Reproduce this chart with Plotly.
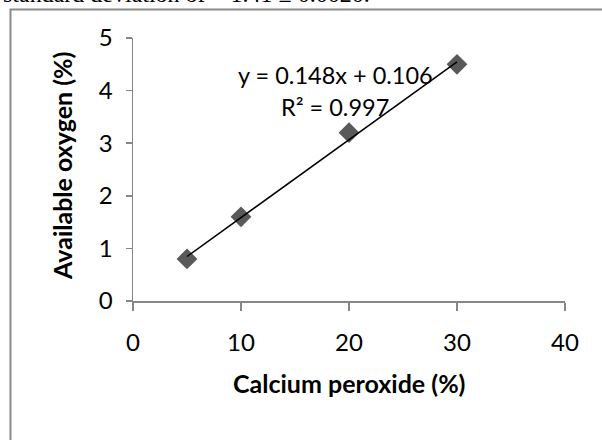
import plotly.graph_objects as go

# ---- data ----
calcium_peroxide = [5, 10, 20, 30]          # x (%)
available_oxygen = [0.8, 1.6, 3.2, 4.5]     # y (%)
trend_slope = 0.148
trend_intercept = 0.106
trend_r2 = 0.997
x_ticks = [0, 10, 20, 30, 40]
y_ticks = [0, 1, 2, 3, 4, 5]

W, H = 602, 440
L, R, T, B = 133, 37, 38, 139
PW, PH = W - L - R, H - T - B

def px(x):
    """page pixel x -> paper fraction"""
    return (x - L) / PW

def py(y):
    """page pixel y -> paper fraction"""
    return 1 - (y - T) / PH

trend_x = [min(calcium_peroxide), max(calcium_peroxide)]
trend_y = [trend_slope * v + trend_intercept for v in trend_x]

fig = go.Figure()
fig.add_trace(go.Scatter(
    x=calcium_peroxide, y=available_oxygen, mode="markers",
    marker=dict(symbol="diamond", size=16, color="#595959", line=dict(width=0)),
    showlegend=False, hoverinfo="x+y"))
fig.add_trace(go.Scatter(
    x=trend_x, y=trend_y, mode="lines",
    line=dict(color="black", width=1.5), showlegend=False, hoverinfo="skip"))

axis_common = dict(
    showgrid=False, zeroline=False, showline=True, linecolor="#868686", linewidth=1.5,
    ticks="outside", tickcolor="#868686", tickwidth=1.5,
    tickfont=dict(family="Lato", size=24, color="black"), fixedrange=True)

fig.update_xaxes(range=[0, 40], tickvals=x_ticks, ticklen=8, ticklabelstandoff=12, **axis_common)
fig.update_yaxes(range=[0, 5], tickvals=y_ticks, ticklen=6, ticklabelstandoff=8, **axis_common)

annotations = [
    dict(text="<b>Calcium peroxide (%)</b>", x=px(349), y=py(383), xref="paper", yref="paper",
         showarrow=False, xanchor="center", yanchor="middle",
         font=dict(family="Lato", size=25, color="black")),
    dict(text="<b>Available oxygen (%)</b>", x=px(62), y=py(166), xref="paper", yref="paper",
         showarrow=False, xanchor="center", yanchor="middle", textangle=-90,
         font=dict(family="Lato", size=25, color="black")),
    dict(text=f"y = {trend_slope}x + {trend_intercept}", x=px(335), y=py(75), xref="paper", yref="paper",
         showarrow=False, xanchor="center", yanchor="middle",
         font=dict(family="Lato", size=23.5, color="black")),
    dict(text=f"R² = {trend_r2}", x=px(335), y=py(107), xref="paper", yref="paper",
         showarrow=False, xanchor="center", yanchor="middle",
         font=dict(family="Lato", size=23.5, color="black")),
    dict(text="standard deviation of ~ 1.41 ± 0.0020.", x=px(1), y=py(-5.5), xref="paper", yref="paper",
         showarrow=False, xanchor="left", yanchor="middle",
         font=dict(family="Liberation Serif", size=24, color="black")),
]

fig.update_layout(
    width=W, height=H, margin=dict(l=L, r=R, t=T, b=B, pad=0),
    paper_bgcolor="white", plot_bgcolor="white",
    annotations=annotations,
    shapes=[dict(type="rect", xref="paper", yref="paper",
                 x0=px(10.5), x1=px(620), y0=py(460), y1=py(9.5),
                 line=dict(color="#8a8a8a", width=2), fillcolor="rgba(0,0,0,0)", layer="above")],
)

fig.write_html("out.html",
               config={"displayModeBar": False, "staticPlot": True},
               post_script="document.body.style.margin='0';document.body.style.overflow='hidden';")
